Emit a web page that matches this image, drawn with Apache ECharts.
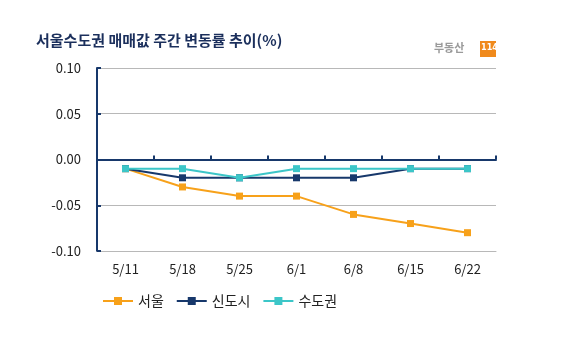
<!DOCTYPE html>
<html><head><meta charset="utf-8">
<script src="https://cdn.jsdelivr.net/npm/echarts@6/dist/echarts.min.js"></script>
<style>html,body{margin:0;padding:0;background:#fff}#c{width:564px;height:340px}</style>
</head><body><div id="c"></div>
<script>
const categories = ['5/11','5/18','5/25','6/1','6/8','6/15','6/22'];
const seoul = [-0.01,-0.03,-0.04,-0.04,-0.06,-0.07,-0.08];
const newTowns = [-0.01,-0.02,-0.02,-0.02,-0.02,-0.01,-0.01];
const capital = [-0.01,-0.01,-0.02,-0.01,-0.01,-0.01,-0.01];
const seriesNames = ['서울','신도시','수도권'];
const titleText = '서울수도권 매매값 주간 변동률 추이(%)';

const FONT = '"Noto Sans CJK KR", "DejaVu Sans", sans-serif';
const NAVY = '#17386b';
const chart = echarts.init(document.getElementById('c'), null, {renderer:'canvas'});
function mk(name, data, color, z){
  return {name, type:'line', data, xAxisIndex:0, symbol:'rect', symbolSize:7,
    lineStyle:{color, width:2}, itemStyle:{color}, z, animation:false};
}
chart.setOption({
  animation:false,
  textStyle:{fontFamily:FONT},
  title:{text:titleText, left:31, top:28,
    textStyle:{fontSize:15, fontWeight:'bold', color:'#1b2f5c', fontFamily:FONT}},
  graphic:[
    {type:'text', left:434, top:42, style:{text:'부동산', fill:'#9a9a9a', font:'bold 11px '+FONT}},
    {type:'rect', left:480, top:41, shape:{width:16, height:16}, style:{fill:'#f08a1c'}},
    {type:'text', left:481, top:43, style:{text:'114', fill:'#fff', font:'bold 9px "DejaVu Sans Condensed", sans-serif'}}
  ],
  legend:{left:97, top:289, itemWidth:30, itemHeight:10, itemGap:12,
    textStyle:{fontSize:14, color:'#222', fontFamily:FONT},
    data:seriesNames},
  grid:{left:97, right:68, top:68, bottom:89, containLabel:false},
  xAxis:[
    {type:'category', data:categories, boundaryGap:true,
     axisLine:{show:true, onZero:false, lineStyle:{color:'#b8b8b8', width:1}}, axisTick:{show:false},
     axisLabel:{margin:12, fontSize:13, color:'#222', fontFamily:FONT}, splitLine:{show:false}},
    {type:'category', data:categories, boundaryGap:true, position:'bottom', z:5,
     axisLine:{show:true, onZero:true, lineStyle:{color:NAVY, width:2}},
     axisTick:{show:true, inside:true, length:4, lineStyle:{color:NAVY, width:2}},
     axisLabel:{show:false}, splitLine:{show:false}}
  ],
  yAxis:{type:'value', min:-0.1, max:0.1, interval:0.05,
    axisLine:{show:true, lineStyle:{color:NAVY, width:2}},
    axisTick:{show:true, inside:true, length:4, lineStyle:{color:NAVY, width:2}},
    axisLabel:{margin:16, fontSize:13, color:'#222', fontFamily:FONT,
      formatter:v=>(Math.abs(v)<1e-9?0:v).toFixed(2)},
    splitLine:{show:true, showMinLine:true, showMaxLine:true, lineStyle:{color:'#b8b8b8', width:1}}},
  series:[
    mk(seriesNames[0], seoul, '#f7a11a', 3),
    mk(seriesNames[1], newTowns, NAVY, 4),
    mk(seriesNames[2], capital, '#3cc6c8', 5)
  ]
});
</script></body></html>
